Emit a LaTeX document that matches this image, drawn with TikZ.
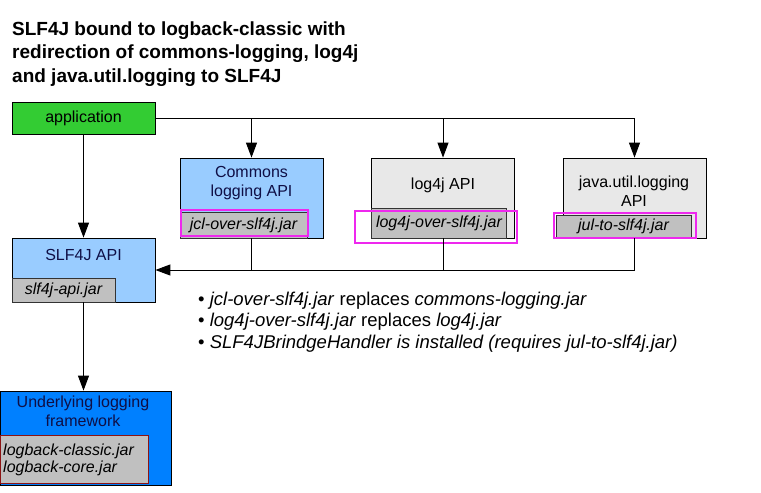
\documentclass[tikz,border=0pt]{standalone}
\usepackage{fontspec}
\setmainfont{Liberation Sans}
\usetikzlibrary{arrows.meta, positioning}
\definecolor{appfill}{RGB}{51,204,51}
\definecolor{apifill}{RGB}{153,204,255}
\definecolor{otherfill}{RGB}{232,232,232}
\definecolor{implfill}{RGB}{0,128,255}
\definecolor{jarfill}{RGB}{192,192,192}
\definecolor{markline}{RGB}{238,40,238}
\definecolor{implline}{RGB}{140,20,20}
\definecolor{navytext}{RGB}{15,15,70}

\begin{document}
\begin{tikzpicture}[
  x=1pt, y=-1pt,
  every node/.style={inner sep=0pt},
  boxfont/.style={font=\fontsize{16}{18.5}\selectfont},
  apibox/.style={draw=black, line width=0.8pt, fill=apifill,
                 minimum width=143, minimum height=80},
  otherbox/.style={draw=black, line width=0.8pt, fill=otherfill,
                   minimum width=143, minimum height=80},
  jarbox/.style={draw=black!80, line width=0.8pt, fill=jarfill,
                 font=\fontsize{16}{17}\selectfont\itshape},
  markbox/.style={draw=markline, line width=2.6pt},
  flowarrow/.style={-{Triangle[length=15pt, width=11pt]}, line width=1pt},
  flowline/.style={line width=1pt},
]
\useasboundingbox (0,0) rectangle (761,493);

% =================================================================
%  TITLE
% =================================================================
\node[anchor=base west, align=left,
      font=\fontsize{19}{23.5}\selectfont\bfseries] (title) at (12,82)
  {SLF4J bound to logback-classic with\\
   redirection of commons-logging, log4j\\
   and java.util.logging to SLF4J};

% =================================================================
%  TOP ROW --- APPLICATION AND LEGACY APIS
% =================================================================
\node[draw=black, line width=0.8pt, fill=appfill, boxfont,
      minimum width=143, minimum height=32] (app) at (83.5,118)
  {application};

\node[apibox] (commons) at (251.5,198) {};
\node[boxfont, align=center, text=navytext] (commonstxt) at (251.5,183)
  {Commons\\logging API};
\node[jarbox, anchor=south west, minimum width=127, minimum height=26]
      (jcljar) at (commons.south west) {jcl-over-slf4j.jar};
\node[markbox, anchor=south west, minimum width=127, minimum height=26]
      (jclmark) at ([yshift=1]commons.south west) {};

\node[otherbox] (log4j) at (443,198) {};
\node[boxfont] (log4jtxt) at (443,185) {log4j API};
\node[jarbox, anchor=south west, minimum width=135, minimum height=30]
      (log4jjar) at (log4j.south west) {log4j-over-slf4j.jar};
\node[markbox, minimum width=162, minimum height=32] (log4jmark)
      at (436,227) {};

\node[otherbox] (jul) at (634.5,198) {};
\node[boxfont, align=center] (jultxt) at (634,191)
  {java.util.logging\\API};
\node[jarbox, minimum width=135, minimum height=22] (juljar)
      at (623.5,226) {jul-to-slf4j.jar};
\node[markbox, minimum width=142, minimum height=25] (julmark)
      at (625,225.5) {};

% =================================================================
%  SLF4J API AND BACKEND
% =================================================================
\node[apibox, minimum height=64] (slf4j) at (83.5,270) {};
\node[boxfont, text=navytext] (slf4jtxt) at (83.5,255) {SLF4J API};
\node[jarbox, anchor=south west, minimum width=103, minimum height=24]
      (apijar) at (slf4j.south west) {slf4j-api.jar};

\node[draw=black, line width=0.8pt, fill=implfill,
      minimum width=171, minimum height=94] (impl) at (85.5,438) {};
\node[boxfont, align=center, text=navytext] (impltxt) at (83,411.5)
  {Underlying logging\\framework};
\node[jarbox, draw=implline, line width=1.2pt, anchor=south west,
      align=left, minimum width=147, minimum height=48,
      text width=142, inner xsep=3pt] (impljar) at ([yshift=1]impl.south west)
  {logback-classic.jar\\logback-core.jar};

% =================================================================
%  ARROWS
% =================================================================
\draw[flowarrow] (app.east) -| (jul.north);
\draw[flowarrow] (app.east -| commons.north) -- (commons.north);
\draw[flowarrow] (app.east -| log4j.north) -- (log4j.north);
\draw[flowarrow] (app) -- (slf4j);

\draw[flowline] (commons.south) -- (commons.south |- slf4j.east);
\draw[flowline] (log4j.south) -- (log4j.south |- slf4j.east);
\draw[flowarrow] (jul.south) |- (slf4j.east);

\draw[flowarrow] (slf4j) -- (slf4j |- impl.north);

% =================================================================
%  NOTES
% =================================================================
\node[anchor=base west, align=left,
      font=\fontsize{18.5}{21.5}\selectfont] (notes) at (198,348)
  {\textbullet\ \textit{jcl-over-slf4j.jar} replaces \textit{commons-logging.jar}\\
   \textbullet\ \textit{log4j-over-slf4j.jar} replaces \textit{log4j.jar}\\
   \textbullet\ \textit{SLF4JBrindgeHandler is installed (requires jul-to-slf4j.jar)}};

\end{tikzpicture}
\end{document}
